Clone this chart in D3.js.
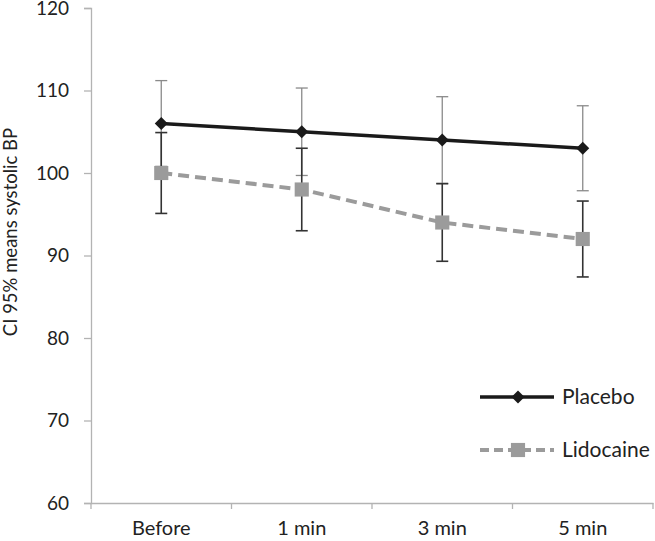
<!DOCTYPE html>
<html><head><meta charset="utf-8">
<script src="https://cdn.jsdelivr.net/npm/d3@7"></script>
<style>body{margin:0;background:#fff}svg{display:block}text{font-family:Lato,"Open Sans",sans-serif;fill:#222}</style>
</head><body><svg id="c" width="655" height="541"></svg>
<script>
const categories = ["Before", "1 min", "3 min", "5 min"];
const placebo = [106, 105, 104, 103];
const placeboErr = [5.2, 5.3, 5.25, 5.15];
const lidocaine = [100, 98, 94, 92];
const lidocaineErr = [4.9, 5.0, 4.7, 4.6];
const yTicks = [60, 70, 80, 90, 100, 110, 120];
const seriesNames = ["Placebo", "Lidocaine"];

const svg = d3.select("#c");
const m = {l: 91, r: 653, t: 8, b: 503};
const x = d3.scaleBand().domain(categories).range([m.l, m.r]);
const y = d3.scaleLinear().domain([60, 120]).range([m.b, m.t]);
const axisCol = "#b3b3b3";

// Y axis
const ya = svg.append("g").attr("transform", `translate(${m.l},0)`)
  .call(d3.axisLeft(y).tickValues(yTicks).tickSize(7).tickPadding(15));
ya.select(".domain").attr("stroke", axisCol).attr("stroke-width", 1.3);
ya.selectAll(".tick line").attr("stroke", axisCol).attr("stroke-width", 1.3);
ya.selectAll(".tick text").style("font-size", "19px").attr("fill", "#222");

// X axis
const xa = svg.append("g").attr("transform", `translate(0,${m.b})`)
  .call(d3.axisBottom(x).tickSize(0).tickPadding(18));
xa.select(".domain").attr("stroke", axisCol).attr("stroke-width", 1.3);
xa.selectAll(".tick text").style("font-size", "20px").attr("fill", "#222");
const bounds = categories.map(c => x(c)).concat([m.r]);
svg.append("g").selectAll("line").data(bounds).join("line")
  .attr("x1", d => d).attr("x2", d => d).attr("y1", m.b).attr("y2", m.b + 6)
  .attr("stroke", axisCol).attr("stroke-width", 1.3);

// Y title
svg.append("text").attr("transform", `translate(17,232) rotate(-90)`)
  .attr("text-anchor", "middle").style("font-size", "18.5px").text("CI 95% means systolic  BP");

const cx = c => x(c) + x.bandwidth() / 2;
const cap = 6;

function errBars(vals, errs, col, w) {
  const g = svg.append("g");
  vals.forEach((v, i) => {
    const X = cx(categories[i]);
    g.append("line").attr("x1", X).attr("x2", X).attr("y1", y(v + errs[i])).attr("y2", y(v - errs[i]))
      .attr("stroke", col).attr("stroke-width", w);
    [v + errs[i], v - errs[i]].forEach(e => g.append("line")
      .attr("x1", X - cap).attr("x2", X + cap).attr("y1", y(e)).attr("y2", y(e))
      .attr("stroke", col).attr("stroke-width", w));
  });
}
errBars(placebo, placeboErr, "#8a8a8a", 1.3);
errBars(lidocaine, lidocaineErr, "#333", 1.6);

const line = d3.line().x((d, i) => cx(categories[i])).y(d => y(d));
svg.append("path").datum(lidocaine).attr("d", line).attr("fill", "none")
  .attr("stroke", "#9b9b9b").attr("stroke-width", 4).attr("stroke-dasharray", "11,6");
svg.append("path").datum(placebo).attr("d", line).attr("fill", "none")
  .attr("stroke", "#1a1a1a").attr("stroke-width", 3.5);

const diamond = d3.symbol().type(d3.symbolSquare).size(85);
svg.append("g").selectAll("path").data(placebo).join("path")
  .attr("d", diamond).attr("fill", "#1a1a1a")
  .attr("transform", (d, i) => `translate(${cx(categories[i])},${y(d)}) rotate(45)`);
const sq = d3.symbol().type(d3.symbolSquare).size(200);
svg.append("g").selectAll("path").data(lidocaine).join("path")
  .attr("d", sq).attr("fill", "#9b9b9b")
  .attr("transform", (d, i) => `translate(${cx(categories[i])},${y(d)})`);

// Legend
const lg = svg.append("g");
const ly = [397, 450];
lg.append("line").attr("x1", 480).attr("x2", 554).attr("y1", ly[0]).attr("y2", ly[0])
  .attr("stroke", "#1a1a1a").attr("stroke-width", 3.5);
lg.append("path").attr("d", diamond).attr("fill", "#1a1a1a").attr("transform", `translate(518,${ly[0]}) rotate(45)`);
lg.append("line").attr("x1", 480).attr("x2", 554).attr("y1", ly[1]).attr("y2", ly[1])
  .attr("stroke", "#9b9b9b").attr("stroke-width", 4).attr("stroke-dasharray", "9,5");
lg.append("path").attr("d", sq).attr("fill", "#9b9b9b").attr("transform", `translate(518,${ly[1]})`);
seriesNames.forEach((n, i) => lg.append("text").attr("x", 562).attr("y", ly[i]).attr("dy", "0.35em")
  .style("font-size", "21px").text(n));
</script></body></html>
